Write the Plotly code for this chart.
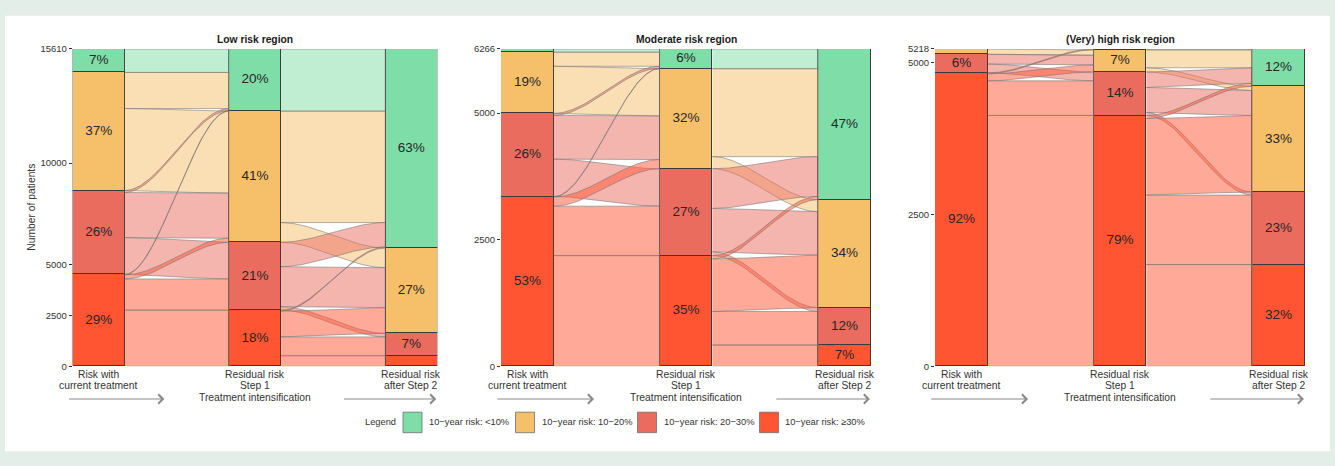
import numpy as np
import plotly.graph_objects as go

W, H = 1335, 466
FONT = "Liberation Sans, Arial, sans-serif"

# ---------------- data ----------------
STRATA = ["<10%", "10−20%", "20−30%", "≥30%"]          # top -> bottom
STRATA_COLORS = ["#7FDDA8", "#F6C06B", "#EA6C5F", "#FF5533"]
LEGEND_LABELS = ["10−year risk: <10%", "10−year risk: 10−20%",
                 "10−year risk: 20−30%", "10−year risk: ≥30%"]
STAGE_LINES = [["Risk with", "current treatment"],
               ["Residual risk", "Step 1", "Treatment intensification"],
               ["Residual risk", "after Step 2"]]
PANEL_TITLES = ["Low risk region", "Moderate risk region", "(Very) high risk region"]
Y_TICKS = [[0, 2500, 5000, 10000, 15610],
           [0, 2500, 5000, 6266],
           [0, 2500, 5000, 5218]]

# flow matrices: rows = stratum before, cols = stratum after (order as STRATA)
low_step1 = [[1155, 0, 0, 0],
             [1775, 4032, 0, 0],
             [100, 2218, 1803, 0],
             [30, 200, 1537, 2760]]
low_step2 = [[3060, 0, 0, 0],
             [5480, 970, 0, 0],
             [1200, 1965, 175, 0],
             [50, 1265, 925, 520]]
mod_step1 = [[64, 0, 0, 0],
             [278, 931, 0, 0],
             [40, 862, 739, 0],
             [9, 181, 977, 2185]]
mod_step2 = [[391, 0, 0, 0],
             [1735, 239, 0, 0],
             [784, 857, 75, 0],
             [65, 1038, 663, 419]]
high_step1 = [[0, 0, 0, 0],
              [0, 88, 0, 0],
              [0, 160, 145, 0],
              [15, 116, 570, 4124]]
high_step2 = [[15, 0, 0, 0],
              [294, 70, 0, 0],
              [255, 410, 50, 0],
              [50, 1259, 1142, 1673]]

FLOWS_1_2 = [low_step1, mod_step1, high_step1]
FLOWS_2_3 = [low_step2, mod_step2, high_step2]

# ---------------- layout geometry (pixels) ----------------
PANEL_PX = [(72.7, 437.3), (501.0, 871.0), (935.0, 1305.0)]
PLOT_TOP, PLOT_BOTTOM = 44, 369
HALF = 1 / 6  # half bar width in axis units


def px(x):
    return x / W


def py(y):
    return 1 - y / H


def rgba(h, a):
    h = h.lstrip("#")
    return f"rgba({int(h[0:2],16)},{int(h[2:4],16)},{int(h[4:6],16)},{a})"


def rnd(v):
    return int(np.floor(v + 0.5))


fig = go.Figure()
annotations = []
shapes = []
layout = {}

t = np.linspace(0, 1, 60)
s = t * t * (3 - 2 * t)

for p in range(3):
    m12 = np.array(FLOWS_1_2[p], float)
    m23 = np.array(FLOWS_2_3[p], float)
    stages = [m12.sum(1), m12.sum(0), m23.sum(0)]
    total = stages[0].sum()
    xa = "x" if p == 0 else f"x{p+1}"
    ya = "y" if p == 0 else f"y{p+1}"

    # ---- flows ----
    for k, m in enumerate([m12, m23]):
        left, right = stages[k], stages[k + 1]
        top_l = total - np.concatenate([[0], np.cumsum(left)[:-1]])
        top_r = total - np.concatenate([[0], np.cumsum(right)[:-1]])
        lpos, rpos = {}, {}
        cur = top_l.copy()
        for i in range(4):
            for j in range(4):
                if m[i, j] > 0:
                    lpos[(i, j)] = cur[i]
                    cur[i] -= m[i, j]
        cur = top_r.copy()
        for j in range(4):
            for i in range(4):
                if m[i, j] > 0:
                    rpos[(i, j)] = cur[j]
                    cur[j] -= m[i, j]
        x0, x1 = k + 1 + HALF, k + 2 - HALF
        xs = x0 + (x1 - x0) * t
        for (i, j), yl in lpos.items():
            v = m[i, j]
            yr = rpos[(i, j)]
            ytop = yl + (yr - yl) * s
            ybot = ytop - v
            fig.add_trace(go.Scatter(
                x=np.concatenate([xs, xs[::-1]]),
                y=np.concatenate([ytop, ybot[::-1]]),
                mode="lines", fill="toself",
                fillcolor=rgba(STRATA_COLORS[i], 0.5),
                line=dict(color="rgba(115,115,115,0.8)", width=0.7),
                xaxis=xa, yaxis=ya, hoverinfo="skip", showlegend=False))

    # ---- strata bars (stacked, bottom first) ----
    for i in reversed(range(4)):
        vals = [stages[k][i] if stages[k][i] > 0 else None for k in range(3)]
        fig.add_trace(go.Bar(
            x=[1, 2, 3], y=vals, width=1 / 3,
            marker=dict(color=STRATA_COLORS[i], line=dict(color="#3a3a3a", width=1)),
            xaxis=xa, yaxis=ya, hoverinfo="skip", showlegend=False))

    # ---- percentage labels ----
    lx, ly, lt = [], [], []
    for k in range(3):
        tops = total - np.concatenate([[0], np.cumsum(stages[k])[:-1]])
        for i in range(4):
            pct = rnd(100 * stages[k][i] / total)
            if pct >= 5:
                lx.append(k + 1)
                ly.append(tops[i] - stages[k][i] / 2)
                lt.append(f"{pct}%")
    fig.add_trace(go.Scatter(
        x=lx, y=ly, text=lt, mode="text",
        textfont=dict(family=FONT, size=13.5, color="#262626"),
        xaxis=xa, yaxis=ya, hoverinfo="skip", showlegend=False))

    L, R = PANEL_PX[p]
    layout["xaxis" if p == 0 else f"xaxis{p+1}"] = dict(
        domain=[px(L), px(R)], range=[1 - HALF, 3 + HALF], anchor=ya,
        showgrid=False, zeroline=False, showticklabels=False, ticks="", showline=False)
    layout["yaxis" if p == 0 else f"yaxis{p+1}"] = dict(
        domain=[py(PLOT_BOTTOM), py(PLOT_TOP)], range=[0, total], anchor=xa,
        tickvals=Y_TICKS[p], ticktext=[str(v) for v in Y_TICKS[p]],
        ticks="outside", ticklen=3, tickwidth=1, tickcolor="#333333",
        tickfont=dict(family=FONT, size=9.5, color="#333333"),
        showgrid=False, zeroline=False, showline=False)

    # ---- title ----
    annotations.append(dict(
        text=f"<b>{PANEL_TITLES[p]}</b>", x=2, xref=xa, y=py(34), yref="paper",
        showarrow=False, xanchor="center", yanchor="middle",
        font=dict(family=FONT, size=10.3, color="#1a1a1a")))

    # ---- stage labels ----
    line_y = [377, 389, 400.5]
    for k, lines in enumerate(STAGE_LINES):
        for li, txt in enumerate(lines):
            annotations.append(dict(
                text=txt, x=k + 1, xref=xa, y=py(line_y[li]), yref="paper",
                showarrow=False, xanchor="center", yanchor="middle",
                font=dict(family=FONT, size=10.3, color="#333333")))

    # ---- arrows ----
    for (a0, a1) in [(0.80, 1.42), (2.56, 3.16)]:
        annotations.append(dict(
            text="", x=a1, xref=xa, y=py(402.5), yref="paper",
            ax=a0, axref=xa, ay=0, ayref="pixel",
            showarrow=True, arrowhead=4, arrowsize=1.8, arrowwidth=1,
            arrowcolor="#8a8a8a"))

# y-axis title
annotations.append(dict(
    text="Number of patients", x=px(32), xref="paper", y=py(206.5), yref="paper",
    textangle=-90, showarrow=False, xanchor="center", yanchor="middle",
    font=dict(family=FONT, size=10.3, color="#333333")))

# white card over tinted page
shapes.append(dict(type="rect", xref="paper", yref="paper",
                   x0=px(5), x1=px(1330), y0=py(456), y1=py(10),
                   fillcolor="white", line=dict(width=0), layer="below"))

# legend
LEG_FONT = 9.3
annotations.append(dict(
    text="Legend", x=px(398), xref="paper", y=py(426.5), yref="paper",
    showarrow=False, xanchor="right", yanchor="middle",
    font=dict(family=FONT, size=LEG_FONT, color="#333333")))
box_x = [403, 515.5, 637.5, 759.5]
for i in range(4):
    shapes.append(dict(type="rect", xref="paper", yref="paper",
                       x0=px(box_x[i]), x1=px(box_x[i] + 19), y0=py(437), y1=py(416),
                       fillcolor=STRATA_COLORS[i], line=dict(color="#6e6e6e", width=0.8),
                       layer="above"))
    annotations.append(dict(
        text=LEGEND_LABELS[i], x=px(box_x[i] + 24), xref="paper", y=py(426.5), yref="paper",
        showarrow=False, xanchor="left", yanchor="middle",
        font=dict(family=FONT, size=LEG_FONT, color="#333333")))

fig.update_layout(
    width=W, height=H, autosize=False,
    margin=dict(l=0, r=0, t=0, b=0, pad=0),
    paper_bgcolor="#e4eee9", plot_bgcolor="rgba(0,0,0,0)",
    barmode="stack", bargap=0,
    showlegend=False,
    font=dict(family=FONT, color="#333333"),
    annotations=annotations, shapes=shapes,
    **layout)

fig.write_html("out.html")
